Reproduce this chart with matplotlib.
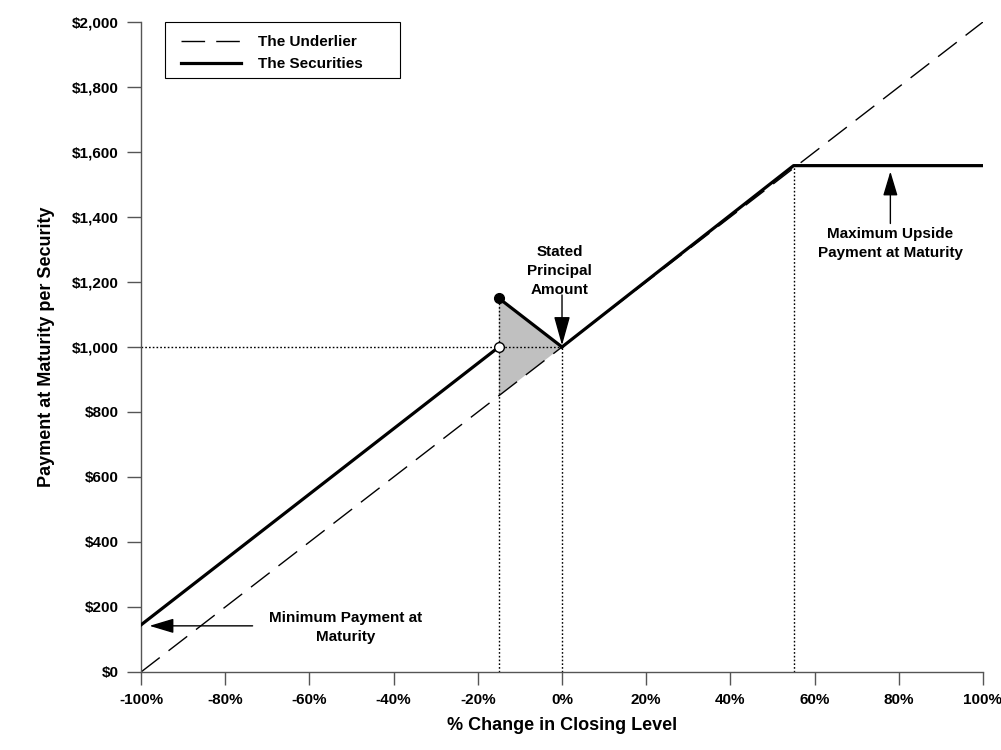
import matplotlib
matplotlib.use("Agg")
import matplotlib.pyplot as plt
from matplotlib.ticker import FuncFormatter
from matplotlib.patches import Rectangle

plt.rcParams['font.family'] = ['Liberation Sans', 'DejaVu Sans']
plt.rcParams['font.weight'] = 'bold'

# Data
underlier_x = [-100, 100]
underlier_y = [0, 2000]
sec_left_x = [-100, -15]
sec_left_y = [145, 1000]
sec_mid_x = [-15, 0]
sec_mid_y = [1150, 1000]
sec_right_x = [0, 55, 100]
sec_right_y = [1000, 1558, 1558]
shade_x = [-15, -15, 0]
shade_y = [1150, 850, 1000]
x_ticks = [-100, -80, -60, -40, -20, 0, 20, 40, 60, 80, 100]
y_ticks = [0, 200, 400, 600, 800, 1000, 1200, 1400, 1600, 1800, 2000]

fig = plt.figure(figsize=(10.01, 7.5), dpi=100)
ax = fig.add_axes([0.1409, 0.104, 0.9820 - 0.1409, 0.9707 - 0.104])

ax.fill(shade_x, shade_y, color='#c0c0c0', zorder=1, linewidth=0)
ax.plot(underlier_x, underlier_y, color='black', lw=1, dashes=(17, 8), label='The Underlier', zorder=2)
ax.plot(sec_left_x, sec_left_y, color='black', lw=2.3, label='The Securities', zorder=3)
ax.plot(sec_mid_x, sec_mid_y, color='black', lw=2.3, zorder=3)
ax.plot(sec_right_x, sec_right_y, color='black', lw=2.3, zorder=3)

# dotted reference lines
dot = dict(color='black', lw=1, linestyle=(0, (1.2, 1.5)), zorder=1.5)
ax.plot([-100, 0], [1000, 1000], **dot)
ax.plot([-15, -15], [0, 1150], **dot)
ax.plot([0, 0], [0, 1000], **dot)
ax.plot([55, 55], [0, 1558], **dot)

# markers
ax.plot([-15], [1150], marker='o', ms=7, color='black', zorder=5)
ax.plot([-15], [1000], marker='o', ms=7, mfc='white', mec='black', mew=1, zorder=5)

ax.set_xlim(-100, 100)
ax.set_ylim(0, 2000)
ax.set_xticks(x_ticks)
ax.set_yticks(y_ticks)
ax.xaxis.set_major_formatter(FuncFormatter(lambda v, p: f"{int(v)}%"))
ax.yaxis.set_major_formatter(FuncFormatter(lambda v, p: f"${int(v):,}"))
ax.tick_params(axis='both', direction='out', labelsize=11, colors='black')
ax.tick_params(axis='y', length=10, width=1, color='#555555', pad=6)
ax.tick_params(axis='x', length=9, width=1, color='#555555', pad=6)
for t in ax.get_xticklabels() + ax.get_yticklabels():
    t.set_fontweight('bold')
for s in ['top', 'right']:
    ax.spines[s].set_visible(False)
for s in ['left', 'bottom']:
    ax.spines[s].set_color('#555555')
    ax.spines[s].set_linewidth(1)

ax.set_xlabel('% Change in Closing Level', fontsize=13, fontweight='bold', labelpad=7)
ax.set_ylabel('Payment at Maturity per Security', fontsize=13, fontweight='bold', labelpad=12)

# annotations
big_head = dict(arrowstyle='-|>,head_length=1.8,head_width=0.5', color='black', lw=1,
                shrinkA=0, shrinkB=0)
mid_head = dict(arrowstyle='-|>,head_length=1.5,head_width=0.45', color='black', lw=1,
                shrinkA=0, shrinkB=0)
ax.annotate('', xy=(0, 1005), xytext=(0, 1160), arrowprops=big_head)
ax.text(-0.5, 1235, 'Stated\nPrincipal\nAmount', ha='center', va='center', fontsize=11,
        fontweight='bold', linespacing=1.45)

ax.annotate('', xy=(-98, 142), xytext=(-73.5, 142), arrowprops=mid_head)
ax.text(-51.5, 137, 'Minimum Payment at\nMaturity', ha='center', va='center', fontsize=11,
        fontweight='bold', linespacing=1.45)

ax.annotate('', xy=(78, 1540), xytext=(78, 1380), arrowprops=mid_head)
ax.text(78, 1317, 'Maximum Upside\nPayment at Maturity', ha='center', va='center', fontsize=11,
        fontweight='bold', linespacing=1.45)

leg = ax.legend(loc='upper left', bbox_to_anchor=(0.0285 + 0.014, 0.987), borderaxespad=0,
                fontsize=11, frameon=False, handlelength=3.9, borderpad=0.3,
                labelspacing=0.55, handletextpad=1.1)
for t in leg.get_texts():
    t.set_fontweight('bold')
ax.add_patch(Rectangle((0.0285, 0.9138), 0.3076 - 0.0285, 1.0 - 0.9138, transform=ax.transAxes,
                       fill=False, edgecolor='black', lw=0.8, clip_on=False, zorder=6))

fig.savefig('out.png', dpi=100)
